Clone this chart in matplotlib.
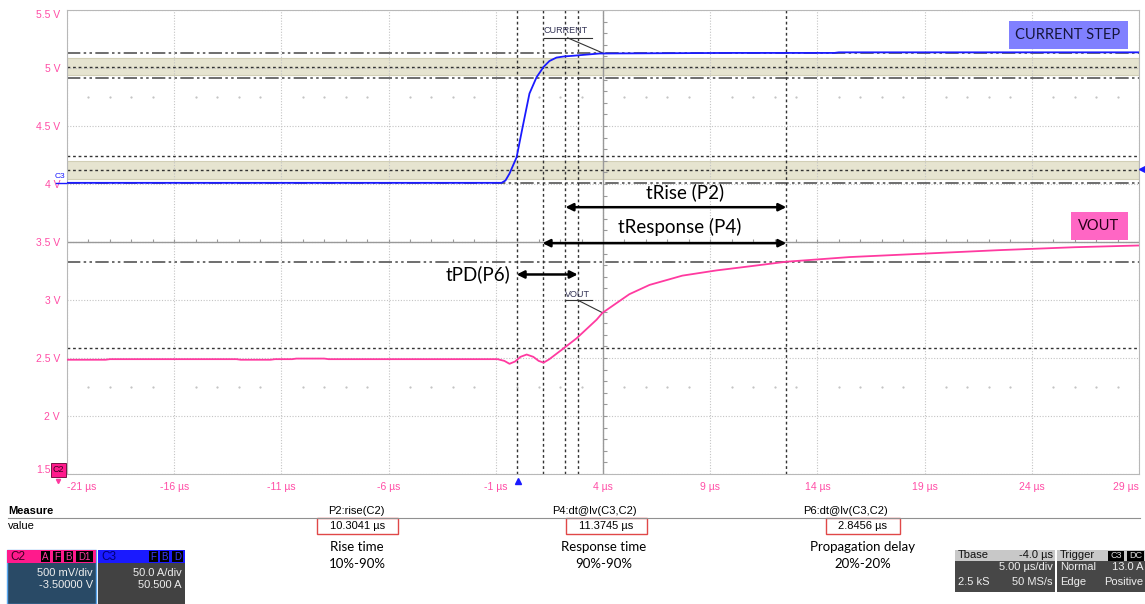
import numpy as np
import matplotlib
matplotlib.use("Agg")
import matplotlib.pyplot as plt
from matplotlib.patches import Rectangle
from matplotlib.lines import Line2D

W, H = 1145, 604

# --- waveform data ---
t_current = [-21, -10, -1.5, -0.73, -0.55, -0.36, -0.03, 0.25, 0.57, 0.90, 1.23,
             1.5, 1.83, 2.2, 2.58, 3.2, 3.84, 10.0, 14.8, 15.0, 29]
i_current = [4.01, 4.01, 4.01, 4.01, 4.03, 4.09, 4.23, 4.49, 4.78, 4.92, 5.01,
             5.06, 5.09, 5.10, 5.105, 5.115, 5.125, 5.13, 5.13, 5.135, 5.135]

t_vout = [-21, -19.2, -19.0, -13.1, -12.9, -11.5, -11.3, -10.5, -10.3, -9.0, -8.8,
          -4, -0.92, -0.6, -0.36, -0.1, 0.15, 0.44, 0.75, 1.0, 1.23, 1.5,
          2.21, 2.77, 3.7, 3.98, 5.23, 6.17, 7.70, 9.29, 10.83, 12.55, 15.49,
          19, 22.5, 26, 29]
v_vout = [2.485, 2.485, 2.49, 2.49, 2.485, 2.485, 2.49, 2.49, 2.495, 2.495, 2.49,
          2.49, 2.49, 2.475, 2.45, 2.47, 2.51, 2.53, 2.51, 2.475, 2.46, 2.49,
          2.59, 2.67, 2.83, 2.89, 3.05, 3.13, 3.21, 3.255, 3.29, 3.33, 3.37,
          3.40, 3.43, 3.455, 3.47]

x_ticks = [-21, -16, -11, -6, -1, 4, 9, 14, 19, 24, 29]
x_labels = [f"{t} µs" for t in x_ticks]
y_ticks = [1.5, 2, 2.5, 3, 3.5, 4, 4.5, 5, 5.5]
y_labels = ["", "2 V", "2.5 V", "3 V", "3.5 V", "4 V", "4.5 V", "5 V", "5.5 V"]

# cursors
cur_dashdot = [5.13, 4.914, 4.009, 3.33]
cur_dotted = [5.01, 4.241, 4.121, 2.59]
bands = [(4.94, 5.09), (4.043, 4.198)]
cursor_t = [-0.03, 1.18, 2.25, 2.82, 12.55]

# measurements
meas_names = ["P2:rise(C2)", "P4:dt@lv(C3,C2)", "P6:dt@lv(C3,C2)"]
meas_values = ["10.3041 µs", "11.3745 µs", "2.8456 µs"]
meas_desc = ["Rise time", "Response time", "Propagation delay"]
meas_range = ["10%-90%", "90%-90%", "20%-20%"]

PINK = "#ff3aa0"
BLUE = "#1a1aff"
LBL = "#ff4da6"
SCOPE = "Liberation Sans"

fig = plt.figure(figsize=(W / 100, H / 100), dpi=100)
ax = fig.add_axes([67 / W, 1 - 474 / H, 1072 / W, 464 / H])
ax.set_xlim(-21, 29)
ax.set_ylim(1.5, 5.5)

ax.set_xticks(x_ticks, x_labels)
ax.set_yticks(y_ticks, y_labels)
ax.tick_params(length=0, labelcolor=LBL, labelsize=7.5)
ax.tick_params(axis="x", pad=6)
ax.tick_params(axis="y", pad=5)
for lbl in ax.get_xticklabels() + ax.get_yticklabels():
    lbl.set_fontfamily(SCOPE)
ax.get_xticklabels()[0].set_ha("left")
ax.get_xticklabels()[-1].set_ha("right")
ax.get_yticklabels()[-1].set_va("top")
# bottom label sits left of the C2 marker
ax.annotate("1.5", xy=(0, 1.5), xycoords=ax.get_yaxis_transform(),
            xytext=(-12, 3), textcoords="offset points", ha="right", va="center",
            fontsize=7.5, color=LBL, family=SCOPE, annotation_clip=False)

for s in ax.spines.values():
    s.set_color("#b8b8b8")
ax.set_axisbelow(True)
ax.grid(True, color="#c4c4c4", lw=0.8, ls=(0, (1, 1.5)))

# centre lines with small ticks
ax.axhline(3.5, color="#999999", lw=1, zorder=1)
ax.axvline(4, color="#999999", lw=1, zorder=1)
ax.vlines(np.arange(-21, 29.01, 1), 3.5, 3.53, color="#999999", lw=0.8)
ax.hlines(np.arange(1.5, 5.51, 0.1), 4, 4.18, color="#999999", lw=0.8)

# dotted rows
dot_t = [t for t in range(-20, 29) if (t + 21) % 5 != 0]
for yv in [4.75, 2.25]:
    ax.plot(dot_t, [yv] * len(dot_t), ls="none", marker="s", ms=0.6, color="#c4c4c4")

# cursor bands and lines
for lo, hi in bands:
    ax.axhspan(lo, hi, fc="#e6e4d0", ec="#d2cfb6", lw=0.8, zorder=0.3)
for yv in cur_dashdot:
    ax.axhline(yv, color="#555555", lw=1.2, ls=(0, (8, 2, 1.5, 2, 1.5, 2)), zorder=2)
for yv in cur_dotted:
    ax.axhline(yv, color="#333333", lw=1, ls=(0, (2, 2)), zorder=2)
for tv in cursor_t:
    ax.axvline(tv, color="#333333", lw=1, ls=(0, (2, 2)), zorder=2)

# traces
ax.plot(t_current, i_current, color=BLUE, lw=1.3, zorder=5)
ax.plot(t_vout, v_vout, color=PINK, lw=1.3, zorder=5)

# trace name tags
ax.text(1.23, 5.32, "CURRENT", fontsize=6.5, family=SCOPE, color="#333355", va="center")
ax.plot([1.23, 3.47], [5.26, 5.26], color="#333333", lw=0.8)
ax.plot([2.35, 3.98], [5.26, 5.13], color="#333333", lw=0.8)
ax.text(2.21, 3.05, "VOUT", fontsize=6.5, family=SCOPE, color="#333355", va="center")
ax.plot([2.21, 3.51], [3.0, 3.0], color="#333333", lw=0.8)
ax.plot([2.81, 3.98], [3.0, 2.89], color="#333333", lw=0.8)

# measurement arrows
arrow = dict(arrowstyle="<|-|>", color="black", lw=1.8, mutation_scale=11,
             shrinkA=0, shrinkB=0)
ax.annotate("", xy=(cursor_t[4], 3.80), xytext=(cursor_t[2], 3.80), arrowprops=arrow)
ax.annotate("", xy=(cursor_t[4], 3.49), xytext=(cursor_t[1], 3.49), arrowprops=arrow)
ax.annotate("", xy=(cursor_t[3], 3.22), xytext=(cursor_t[0], 3.22), arrowprops=arrow)
ax.text(7.84, 3.925, "tRise (P2)", fontsize=13.5, family="Lato", ha="center", va="center")
ax.text(7.56, 3.63, "tResponse (P4)", fontsize=13.5, family="Lato", ha="center", va="center")
ax.text(-0.3, 3.22, "tPD(P6)", fontsize=13.5, family="Lato", ha="right", va="center")


def fx(x):
    return x / W


def fy(y):
    return 1 - y / H


def box(x0, y0, x1, y1, fc, ec="none", lw=0):
    fig.add_artist(Rectangle((fx(x0), fy(y1)), (x1 - x0) / W, (y1 - y0) / H,
                             transform=fig.transFigure, fc=fc, ec=ec, lw=lw))


def txt(x, y, s, **kw):
    kw.setdefault("va", "center")
    kw.setdefault("family", SCOPE)
    kw.setdefault("fontsize", 8)
    fig.text(fx(x), fy(y), s, **kw)


# legend boxes in the plot
box(1009, 21, 1128, 49, "#8080ff")
txt(1068, 35, "CURRENT STEP", family="Lato", fontsize=10.5, color="#15153a", ha="center")
box(1071, 212, 1128, 240, "#ff66c4")
txt(1099, 226, "VOUT", family="Lato", fontsize=10.5, color="#2a0018", ha="center")

# channel markers
txt(55, 177, "C3", color=BLUE, fontsize=6)
fig.add_artist(Line2D([fx(56), fx(66)], [fy(183), fy(183)], color=BLUE, lw=1))
fig.add_artist(Line2D([fx(1142)], [fy(169)], marker="<", color=BLUE, ms=4))
fig.add_artist(Line2D([fx(518)], [fy(481)], marker="^", color=BLUE, ms=5))
box(51, 463, 66, 477, "#ff1a8c", ec="#600030", lw=0.6)
txt(58.5, 470, "C2", color="#3a0020", fontsize=6.5, ha="center")
fig.add_artist(Line2D([fx(58)], [fy(481)], marker="v", color=PINK, ms=3))

# measure table
txt(8, 511, "Measure", weight="bold")
fig.add_artist(Line2D([fx(8), fx(1140)], [fy(518), fy(518)], color="#909090", lw=0.8))
txt(8, 526, "value")
head_x = [356, 594, 846]
box_x = [(317, 398), (566, 647), (826, 900)]
desc_x = [357, 604, 863]
for name, val, desc, rng, hx, (b0, b1), dx in zip(meas_names, meas_values, meas_desc,
                                                  meas_range, head_x, box_x, desc_x):
    txt(hx, 511, name, ha="center")
    box(b0, 518, b1, 534, "none", ec="#e04848", lw=1)
    txt((b0 + b1) / 2, 526, val, ha="center")
    txt(dx, 547, desc, family="Lato", fontsize=9.5, ha="center")
    txt(dx, 564, rng, family="Lato", fontsize=9.5, ha="center")

# channel panels
box(7, 550, 96, 604, "#294a66", ec="#5aa8f0", lw=1)
box(7, 550, 96, 563, "#ff1a8c")
txt(10, 557, "C2", color="#3a0020", fontsize=8.5)
for lab, x0, x1 in [("A", 41, 50), ("F", 53, 61), ("B", 64, 73), ("D1", 76, 93)]:
    box(x0, 551, x1, 562, "black")
    txt((x0 + x1) / 2, 557, lab, color="#ff3aa0", fontsize=7, ha="center")
txt(93, 573, "500 mV/div", color="#eeeeee", ha="right")
txt(93, 585, "-3.50000 V", color="#eeeeee", ha="right")

box(98, 550, 185, 604, "#424242")
box(98, 550, 185, 563, BLUE)
txt(101, 557, "C3", color="#000070", fontsize=8.5)
for lab, x0, x1 in [("F", 149, 158), ("B", 160, 169), ("D", 172, 183)]:
    box(x0, 551, x1, 562, "black")
    txt((x0 + x1) / 2, 557, lab, color="#3a3aff", fontsize=7, ha="center")
txt(182, 573, "50.0 A/div", color="#eeeeee", ha="right")
txt(182, 585, "50.500 A", color="#eeeeee", ha="right")

# timebase / trigger panels
box(955, 550, 1055, 592, "#474747")
box(955, 550, 1055, 561, "#c8c8c8")
txt(958, 555.5, "Tbase", color="#111111")
txt(1053, 555.5, "-4.0 µs", color="#111111", ha="right")
txt(1053, 567, "5.00 µs/div", color="#eeeeee", ha="right")
txt(958, 582, "2.5 kS", color="#eeeeee")
txt(1053, 582, "50 MS/s", color="#eeeeee", ha="right")

box(1057, 550, 1145, 592, "#474747")
box(1057, 550, 1145, 561, "#c8c8c8")
txt(1060, 555.5, "Trigger", color="#111111")
for lab, x0, x1 in [("C3", 1108, 1124), ("DC", 1127, 1144)]:
    box(x0, 551, x1, 561, "black")
    txt((x0 + x1) / 2, 556, lab, color="#dddddd", fontsize=6.5, ha="center")
txt(1060, 567, "Normal", color="#eeeeee")
txt(1143, 567, "13.0 A", color="#eeeeee", ha="right")
txt(1060, 582, "Edge", color="#eeeeee")
txt(1143, 582, "Positive", color="#eeeeee", ha="right")

fig.savefig("out.png", dpi=100, facecolor="white")
